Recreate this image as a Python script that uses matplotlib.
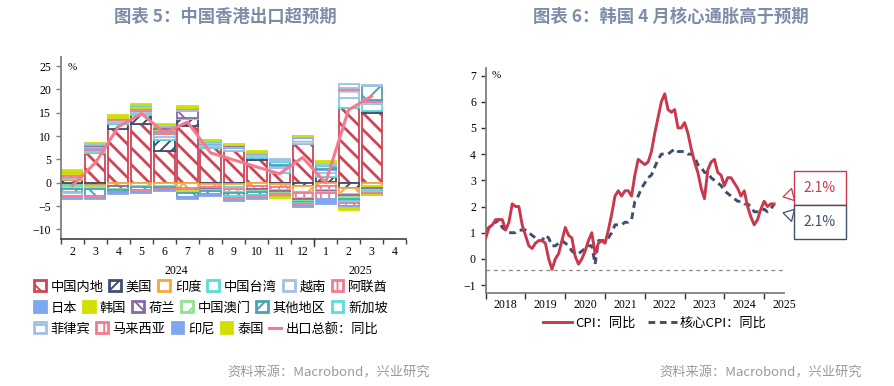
import numpy as np
import matplotlib
matplotlib.use("Agg")
import matplotlib.pyplot as plt
from matplotlib.patches import Patch
from matplotlib.lines import Line2D
from matplotlib.transforms import blended_transform_factory, offset_copy

CJK = ["Noto Sans CJK SC", "DejaVu Sans"]
SERIF = ["Liberation Serif", "Noto Sans CJK SC"]
plt.rcParams.update({
    "font.family": SERIF, "font.size": 8.5,
    "hatch.linewidth": 1.4, "axes.linewidth": 1.3,
})

TITLE_C, SRC_C, AX_C = "#7D8DA8", "#9A9A9A", "#7F7F7F"

# ---------------- left panel: HK exports by destination (contribution, ppt) ----------------
months = ["2", "3", "4", "5", "6", "7", "8", "9", "10", "11", "12", "1", "2", "3", "4"]
years = ["2024", "2025"]
regions = ["中国内地", "美国", "印度", "中国台湾", "越南", "阿联酋", "日本", "韩国", "荷兰",
           "中国澳门", "其他地区", "新加坡", "菲律宾", "马来西亚", "印尼", "泰国"]
cn = [-0.4, 6.4, 11.5, 12.6, 6.7, 12.2, 7.4, 6.9, 4.9, 2.1, 8.3, 0.2, 16.0, 14.9]
us = [0.6, -0.4, 1.1, 1.9, 2.4, 1.4, -0.3, -0.2, 0.3, -0.2, -0.8, 1.0, -1.2, 0.4]
india = [0.4, -0.6, -0.8, -0.6, -0.6, -1.2, -0.6, -0.7, -0.8, -0.8, -1.2, -0.7, -1.2, -0.8]
tw = [-0.6, 0.4, 0.4, 0.4, 0.8, 0.1, 0.5, -0.5, 0.5, 1.0, -0.3, 0.9, 2.1, 1.5]
vn = [0.3, 0.3, 0.4, 0.5, 0.6, 0.1, 0.4, 0.5, 0.4, 0.5, 1.2, 0.6, 1.8, 0.6]
ae = [0.3, 0.3, 0.3, 0.5, 0.4, -0.3, -0.4, -0.6, -0.6, -0.6, -1.0, -0.8, 0.3, 0.2]
jp = [0.2, 0.2, 0.2, 0.2, 0.4, -0.2, 0.2, 0.3, 0.2, 0.2, 0.2, 0.2, 0.2, 0.2]
kr = [0.4, 0.3, 0.3, 0.3, 0.2, -0.2, 0.2, 0.1, 0.2, -0.2, -0.2, -0.2, -0.2, -0.3]
nl = [0.1, 0.1, -0.5, 0.1, 0.4, 1.5, -0.2, 0.3, -0.3, -0.3, -0.4, -0.3, -0.5, -0.5]
mo = [-0.3, -0.3, -0.3, -0.4, -0.4, -0.2, -0.3, -0.3, -0.3, -0.3, -0.3, -0.2, -0.3, -0.2]
other = [-0.6, -1.5, -0.4, -0.6, -0.3, -1.0, -0.7, -0.5, -0.6, 0.6, -0.2, 0.6, -0.6, 2.9]
sg = [-0.4, 0.2, 0.1, 0.1, 0.3, 0.1, 0.2, -0.4, -0.3, 0.4, -0.2, 0.5, -0.4, -0.3]
ph = [-0.5, 0.3, 0.1, 0.1, 0.1, 0.4, 0.2, 0.0, 0.0, 0.3, 0.4, 0.5, 0.8, 0.3]
my = [-0.4, -0.5, -0.3, -0.3, -0.3, 0.3, -0.2, -0.5, -0.4, -0.5, -0.3, -1.2, -0.6, -0.3]
idn = [-0.3, -0.1, -0.2, -0.3, -0.2, -0.4, -0.2, -0.3, -0.2, -0.2, -0.2, -1.1, -0.4, -0.2]
th = [0.5, 0.1, 0.1, 0.2, 0.2, 0.4, 0.1, 0.2, 0.2, -0.2, 0.0, 0.1, -0.4, -0.1]
export_total = [-0.6, 4.3, 12.0, 14.8, 10.7, 13.0, 6.4, 4.9, 3.4, 1.9, 5.4, 0.0, 15.6, 18.5]

RED, NAVY, ORANGE, CYAN = "#D04556", "#3E4F6E", "#F5A93A", "#5ADCD8"
LBLUE, PINK, BLUE, YGREEN = "#A3C0E2", "#F47A90", "#7FA7EE", "#D3DF00"
PURPLE, LGREEN, TEAL = "#8A68A8", "#90E390", "#4AA3B8"
# (face, edge, hatch) per region
styles = [
    ("white", RED, "\\\\"), ("white", NAVY, "///"), ("white", ORANGE, "x"), ("white", CYAN, ""),
    ("white", LBLUE, "-"), ("white", PINK, "||"), (BLUE, BLUE, ""), (YGREEN, YGREEN, ""),
    ("white", PURPLE, "\\"), ("white", LGREEN, "/"), ("white", TEAL, "x"), ("white", CYAN, ""),
    ("white", LBLUE, "-"), ("white", PINK, "||"), (BLUE, BLUE, ""), (YGREEN, YGREEN, ""),
]
series = [cn, us, india, tw, vn, ae, jp, kr, nl, mo, other, sg, ph, my, idn, th]

fig = plt.figure(figsize=(8.94, 3.86), dpi=100)
ax1 = fig.add_axes([0.0682, 0.3816, 0.386, 0.4715])

x = np.arange(len(cn))
pos_base = np.zeros(len(cn))
neg_base = np.zeros(len(cn))
for vals, (fc, ec, h) in zip(series, styles):
    v = np.array(vals)
    bottom = np.where(v >= 0, pos_base, neg_base)
    bars = ax1.bar(x, v, 0.87, bottom=bottom, facecolor=fc, edgecolor=ec, hatch=h,
                   linewidth=1.3, zorder=2)
    if ec == RED:
        for b in bars:
            if hasattr(b, "set_hatch_linewidth"):
                b.set_hatch_linewidth(2.0)
    pos_base += np.where(v >= 0, v, 0)
    neg_base += np.where(v < 0, v, 0)

ax1.plot(x, export_total, color=PINK, lw=2.2, zorder=4, solid_joinstyle="round")

ax1.set_xlim(-0.5, len(months) - 0.5)
ax1.set_ylim(-12, 27)
ax1.set_yticks(np.arange(-10, 26, 5))
ax1.set_xticks(np.arange(len(months) + 1) - 0.5)
ax1.set_xticklabels([])
ax1.set_xticks(np.arange(len(months)), minor=True)
ax1.set_xticklabels(months, minor=True)
ax1.tick_params(axis="x", which="major", length=3.5, color="#404040", width=1.0)
ax1.tick_params(axis="x", which="minor", length=0, pad=5, labelsize=8.5)
ax1.tick_params(axis="y", length=3.5, color=AX_C, width=1.0, labelsize=8.5)
for s in ("top", "right"):
    ax1.spines[s].set_visible(False)
ax1.spines["left"].set_color(AX_C)
ax1.spines["bottom"].set_color("#404040")
ax1.spines["bottom"].set_linewidth(1.2)
ax1.text(0.02, 0.965, "%", transform=ax1.transAxes, fontsize=8, va="top")

trans1 = blended_transform_factory(ax1.transData, ax1.transAxes)
year_break = months.index("1") - 0.5
ax1.plot([year_break, year_break], [0, -0.04], transform=trans1, color="#404040",
         lw=1.0, clip_on=False)
ax1.text((year_break - 0.5) / 2 - 0.5, -0.18, years[0], transform=trans1, ha="center",
         va="center", fontsize=8.5)
ax1.text(year_break + 2, -0.18, years[1], transform=trans1, ha="center", va="center",
         fontsize=8.5)

handles = [Patch(facecolor=fc, edgecolor=ec, hatch=h, linewidth=2.0)
           for fc, ec, h in styles]
handles.append(Line2D([], [], color=PINK, lw=2.2))
labels = regions + ["出口总额：同比"]
rows = [(0, 6), (6, 12), (12, 17)]
for r, (a, b) in enumerate(rows):
    fig.legend(handles[a:b], labels[a:b], ncol=b - a, loc="center left",
               bbox_to_anchor=(0.038, 1 - (287 + 21 * r) / 386), frameon=False,
               prop={"family": CJK, "size": 9.5}, handlelength=0.9, handleheight=0.9,
               handletextpad=0.35, columnspacing=0.45, borderaxespad=0, borderpad=0)

# ---------------- right panel: Korea CPI ----------------
cpi = [0.8, 1.2, 1.3, 1.5, 1.5, 1.5, 1.1, 1.4, 2.1, 2.0, 2.0, 1.3,
       0.9, 0.5, 0.4, 0.6, 0.7, 0.7, 0.6, 0.0, -0.4, 0.0, 0.2, 0.7,
       1.2, 0.9, 0.8, 0.1, -0.2, 0.0, 0.3, 0.7, 1.0, 0.2, 0.6, 0.7,
       0.6, 1.1, 1.7, 2.4, 2.6, 2.4, 2.6, 2.6, 2.4, 3.2, 3.8, 3.7,
       3.6, 3.7, 4.1, 4.8, 5.4, 6.0, 6.3, 5.7, 5.6, 5.7, 5.0, 5.0,
       5.2, 4.8, 4.2, 3.7, 3.3, 2.7, 2.3, 3.4, 3.7, 3.8, 3.3, 3.2,
       2.8, 3.1, 3.1, 2.9, 2.7, 2.4, 2.6, 2.0, 1.6, 1.3, 1.5, 1.9,
       2.2, 2.0, 2.1, 2.1]
core = [1.1, 1.2, 1.3, 1.4, 1.5, 1.2, 1.1, 1.0, 1.0, 1.0, 1.1, 1.1,
        1.1, 1.0, 0.9, 0.8, 0.7, 0.7, 0.9, 0.8, 0.5, 0.5, 0.6, 0.7,
        0.6, 0.5, 0.3, 0.2, 0.2, 0.3, 0.4, 0.5, 0.5, -0.2, 0.7, 0.7,
        0.7, 0.8, 1.0, 1.3, 1.3, 1.3, 1.4, 1.4, 1.5, 2.2, 2.4, 2.7,
        2.9, 3.1, 3.2, 3.5, 3.8, 4.0, 4.0, 4.0, 4.1, 4.2, 4.1, 4.1,
        4.1, 4.0, 4.0, 3.9, 3.6, 3.5, 3.3, 3.3, 3.1, 3.0, 2.9, 2.8,
        2.6, 2.5, 2.4, 2.3, 2.2, 2.2, 2.1, 2.1, 2.0, 1.8, 1.8, 1.8,
        1.9, 1.8, 1.9, 2.1]
cpi_years = ["2018", "2019", "2020", "2021", "2022", "2023", "2024", "2025"]
ref_level = -0.43

CPI_RED, CORE_NAVY = "#C9384D", "#3E4F6E"
ax2 = fig.add_axes([0.5433, 0.241, 0.3337, 0.5837])
m = np.arange(len(cpi))
ax2.plot(m, cpi, color=CPI_RED, lw=2.1, zorder=3, label="CPI：同比")
ax2.plot(m, core, color=CORE_NAVY, lw=2.1, dashes=(2.3, 1.6), zorder=2, label="核心CPI：同比")
ax2.axhline(ref_level, color="#888888", lw=0.9, dashes=(3, 3), zorder=1)

ax2.set_xlim(0, 12 * len(cpi_years) - 6)
ax2.set_ylim(-1.3, 7.3)
ax2.set_yticks(np.arange(-1, 8, 1))
ax2.set_xticks(np.arange(0, 12 * len(cpi_years), 12))
ax2.set_xticklabels([])
ax2.set_xticks(np.arange(6, 12 * len(cpi_years) + 1, 12), minor=True)
ax2.set_xticklabels(cpi_years, minor=True)
ax2.tick_params(axis="x", which="major", length=4.5, color="#303030", width=1.0)
ax2.tick_params(axis="x", which="minor", length=0, pad=4, labelsize=8.5)
ax2.tick_params(axis="y", length=3.5, color="#303030", width=1.0, labelsize=8.5)
for s in ("top", "right"):
    ax2.spines[s].set_visible(False)
ax2.spines["left"].set_color(AX_C)
ax2.spines["bottom"].set_color(AX_C)
ax2.text(0.02, 0.985, "%", transform=ax2.transAxes, fontsize=8, va="top")

last = len(cpi) - 1
for val, col, dy, ty in [(cpi[last], CPI_RED, 7, 198), (core[last], CORE_NAVY, -9, 164)]:
    tip = offset_copy(ax2.transData, fig=fig, x=9, y=dy, units="dots")
    ax2.annotate(f"{val:.1f}%", xy=(last, val), xycoords=tip,
                 xytext=(820, ty), textcoords="figure pixels", ha="center", va="center",
                 color=col, fontsize=10, family=CJK,
                 bbox=dict(boxstyle="square,pad=0.75", fc="white", ec=col, lw=1.0),
                 arrowprops=dict(arrowstyle="wedge,tail_width=0.9", fc="white", ec=col,
                                 lw=0.9, shrinkA=0, shrinkB=0),
                 annotation_clip=False, zorder=5)

fig.legend(*ax2.get_legend_handles_labels(), ncol=2, loc="center",
           bbox_to_anchor=(655 / 894, 1 - 323 / 386), frameon=False,
           prop={"family": CJK, "size": 9.5}, handlelength=2.2, handletextpad=0.2,
           columnspacing=1.0, borderaxespad=0, borderpad=0)

# ---------------- titles and sources ----------------
fig.text(225 / 894, 1 - 17 / 386, "图表 5：中国香港出口超预期", ha="center", va="center",
         color=TITLE_C, fontsize=12.5, fontweight="bold", family=CJK)
fig.text(671 / 894, 1 - 17 / 386, "图表 6：韩国 4 月核心通胀高于预期", ha="center",
         va="center", color=TITLE_C, fontsize=12.5, fontweight="bold", family=CJK)
fig.text(430 / 894, 1 - 373 / 386, "资料来源：Macrobond，兴业研究", ha="right", va="center",
         color=SRC_C, fontsize=9.5, family=CJK)
fig.text(862 / 894, 1 - 373 / 386, "资料来源：Macrobond，兴业研究", ha="right", va="center",
         color=SRC_C, fontsize=9.5, family=CJK)

fig.savefig("out.png", dpi=100)
